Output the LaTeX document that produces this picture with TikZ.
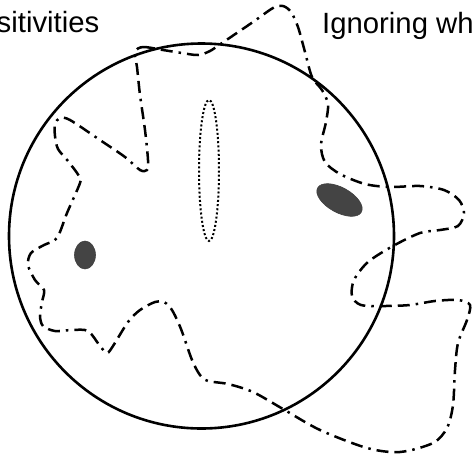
\documentclass[tikz,border=0pt]{standalone}
\usepackage{fontspec}
\setmainfont{Liberation Sans}
\definecolor{blob}{HTML}{444444}
\tikzset{
  lbl/.style={inner sep=0pt, font=\fontsize{29.3}{35}\selectfont},
  rim/.style={line width=2.6pt},
  spot/.style={fill=blob, draw=black!75, line width=0.6pt},
  dotring/.style={line width=2pt, dash pattern=on 2pt off 2.2pt},
  contour/.style={line width=2.5pt, dash pattern=on 12pt off 6pt on 12pt off 6pt on 2.5pt off 6pt}
}
\begin{document}
\begin{tikzpicture}[x=1pt,y=-1pt]
\useasboundingbox (0,0) rectangle (472,456);
\clip (0,0) rectangle (472,456);
\node[lbl, anchor=base east] (t1) at (99.5,32.5) {sitivities};
\node[lbl, anchor=base west] (t2) at (322,33) {Ignoring wh};
\draw[rim] (201.5,236) circle[radius=192.5];
\draw[dotring] (209,170.5) ellipse[x radius=10, y radius=70.5];
\draw[spot] (85,255) ellipse[x radius=10.5, y radius=14];
\draw[spot, rotate around={-29:(339.5,200)}] (339.5,200) ellipse[x radius=25, y radius=12.5];
\draw[contour] plot[smooth cycle, tension=0.5] coordinates {
(135,52) (143,47) (163,50) (182,53) (198,55) (210,51) (222,43) (253,22) (273,8) (283,6) (291,12) (298,27) (305,52) (312,77) (322,90) (328,104) (326,122) (321,145) (325,162) (340,174) (365,184) (390,187) (420,186) (444,190) (459,200) (464,213) (458,226) (440,230) (420,233) (393,246) (368,262) (354,280) (352,296) (361,305) (385,306) (410,305) (435,301) (458,300) (470,305) (467,320) (458,343) (455,370) (453,405) (447,428) (433,443) (400,452) (367,448) (320,430) (283,409) (253,392) (228,384) (208,381) (200,375) (192,360) (181,329) (172,310) (164,302) (155,302) (140,310) (128,322) (113,346) (107,353) (100,346) (88,331) (72,330) (55,331) (43,326) (40,316) (42,302) (44,290) (35,280) (28,265) (31,253) (44,245) (57,238) (67,213) (80,183) (79,176) (68,161) (58,149) (55,136) (55,124) (60,118) (70,120) (100,140) (125,157) (140,170) (147,170) (148,160) (145,130) (140,95) (137,67)
};
\end{tikzpicture}
\end{document}
